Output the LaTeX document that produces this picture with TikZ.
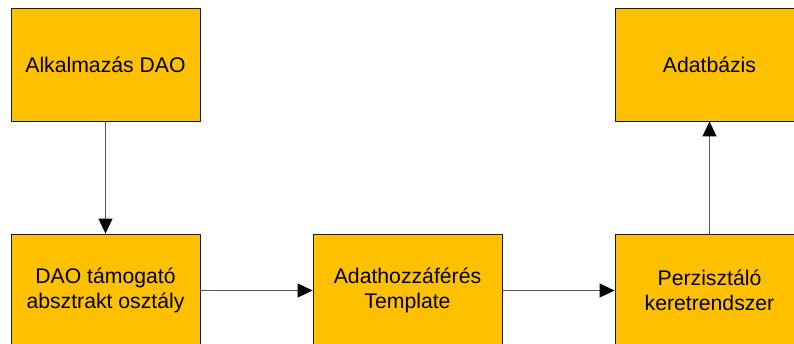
\documentclass[tikz,border=0pt]{standalone}
\usepackage{fontspec}
\setmainfont{Liberation Sans}
\usetikzlibrary{arrows.meta}
\definecolor{boxfill}{HTML}{FFC000}

\begin{document}
\begin{tikzpicture}[line cap=round,line join=round,x=1pt,y=1pt,
    blokk/.style={draw=black!90,line width=0.9pt,fill=boxfill,minimum width=189pt,minimum height=113pt,
        inner sep=0pt,align=center,font=\fontsize{21.2}{25}\selectfont},
    nyil/.style={draw=black!65,line width=1.1pt,-{Triangle[length=15pt,width=14pt,color=black]}}]
    \useasboundingbox (0,0) rectangle (794,343);
    % felso sor
    \node[blokk] (alkdao) at (105.5,278.5) {Alkalmaz\'as DAO};
    \node[blokk] (adatbazis) at (709.5,278.5) {Adatb\'azis};
    % also sor
    \node[blokk] (daotam) at (105.5,52.5) {DAO t\'amogat\'o\\absztrakt oszt\'aly};
    \node[blokk] (template) at (407.5,52.5) {Adathozz\'af\'er\'es\\Template};
    \node[blokk] (perzist) at (709.5,52.5) {Perziszt\'al\'o\\keretrendszer};
    % nyilak
    \draw[nyil] (alkdao) -- (daotam);
    \draw[nyil] (daotam) -- (template);
    \draw[nyil] (template) -- (perzist);
    \draw[nyil] (perzist) -- (adatbazis);
\end{tikzpicture}
\end{document}
